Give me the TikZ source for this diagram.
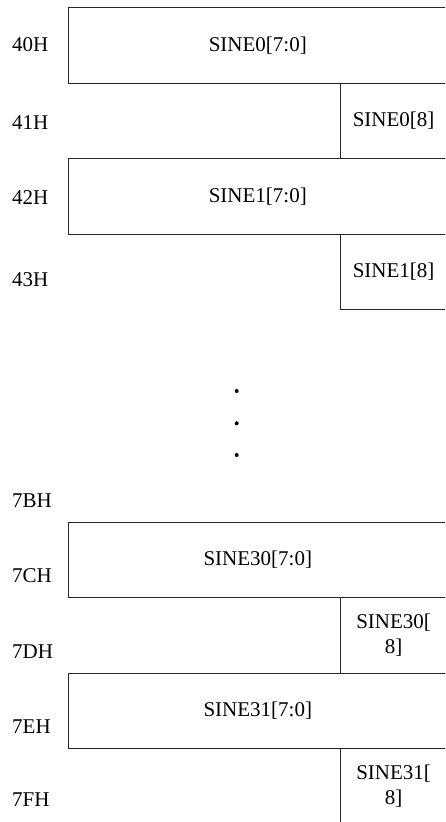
\documentclass[tikz,border=0pt]{standalone}
\usepackage{fontspec}
\setmainfont{Liberation Serif}
\begin{document}
\begin{tikzpicture}[x=1pt,y=1pt,
  cell/.style={draw=black!85, line width=0.9pt, anchor=north west, inner sep=0pt,
    minimum height=75.4pt, align=center, font=\fontsize{21}{24.3}\selectfont},
  wide/.style={cell, minimum width=378pt},
  narrow/.style={cell, minimum width=105.7pt},
  addr/.style={anchor=base west, inner sep=0pt, font=\fontsize{21}{24.3}\selectfont},
  dotnode/.style={circle, fill=black, inner sep=0pt, minimum size=4pt}]
\useasboundingbox (0,0) rectangle (445,-822);
\clip (0,0) rectangle (445,-822);
% upper rows
\node[wide]   (s0l) at (68.3,-7.3)   {SINE0[7:0]};
\node[narrow] (s0h) at (340.3,-82.7) {SINE0[8]};
\node[wide]   (s1l) at (68.3,-158.3) {SINE1[7:0]};
\node[narrow] (s1h) at (340.3,-233.9) {SINE1[8]};
% lower rows
\node[wide]   (s30l) at (68.3,-521.7) {SINE30[7:0]};
\node[narrow] (s30h) at (340.3,-597.1) {SINE30[\\8]};
\node[wide]   (s31l) at (68.3,-672.5) {SINE31[7:0]};
\node[narrow] (s31h) at (340.3,-747.9) {SINE31[\\8]};
% addresses
\node[addr] (a40) at (12,-51.7)  {40H};
\node[addr] (a41) at (12,-129.3) {41H};
\node[addr] (a42) at (12,-204)   {42H};
\node[addr] (a43) at (12,-286.7) {43H};
\node[addr] (a7b) at (12,-507)   {7BH};
\node[addr] (a7c) at (12,-582)   {7CH};
\node[addr] (a7d) at (12,-658)   {7DH};
\node[addr] (a7e) at (12,-733.3) {7EH};
\node[addr] (a7f) at (12,-806.7) {7FH};
% ellipsis dots
\node[dotnode] (d1) at (236.7,-391)   {};
\node[dotnode] (d2) at (236.7,-423.3) {};
\node[dotnode] (d3) at (236.7,-455)   {};
\end{tikzpicture}
\end{document}
